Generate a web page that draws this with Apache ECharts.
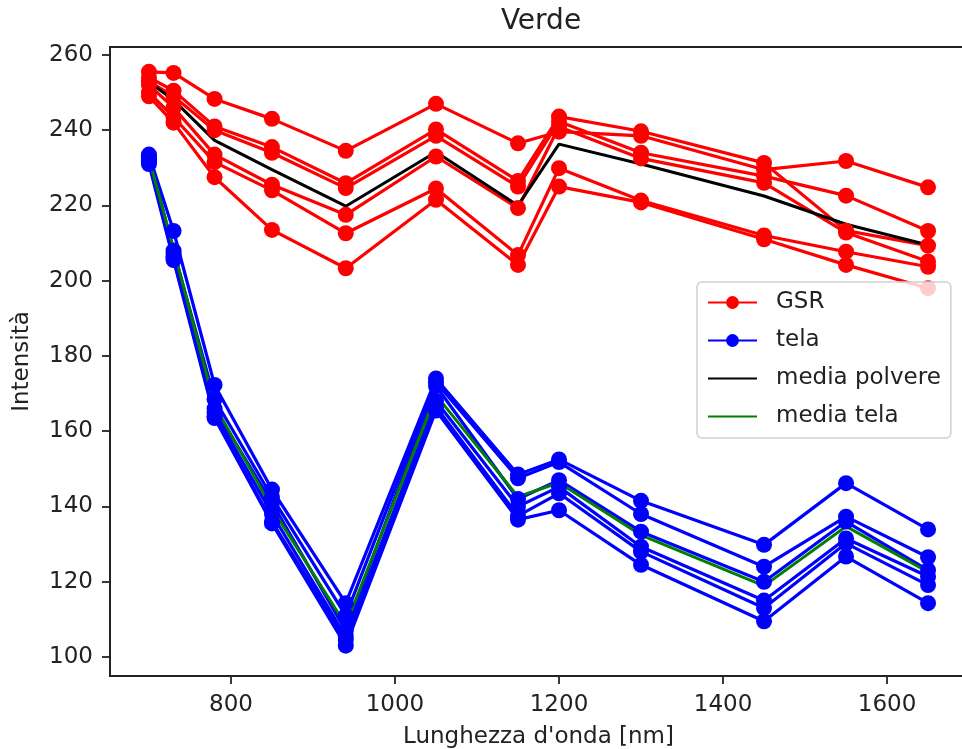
<!DOCTYPE html>
<html>
<head>
	<title>Verde</title>
	<meta charset="utf-8">
	<style>
		html, body {
			margin: 0;
			padding: 0;
			background: #fff;
		}
		#chart {
			width: 962px;
			height: 749px;
		}
	</style>
	<script src="https://cdn.jsdelivr.net/npm/echarts@6/dist/echarts.min.js"></script>
</head>
<body>

<div id="chart"></div>

<script>

var wavelengths = [700, 730, 780, 850, 940, 1050, 1150, 1200, 1300, 1450, 1550, 1650];

// GSR (polvere), 6 misure
var gsr1 = [255.5, 255.2, 248.3, 243, 234.5, 247, 236.5, 239.6, 238.5, 229.5, 231.8, 224.8];
var gsr2 = [254, 250.5, 241, 235.5, 225.9, 240.2, 226.5, 243.6, 239.7, 231.3, 213.3, 209.3];
var gsr3 = [253, 249, 240, 234, 224.6, 238.5, 225, 242.3, 234, 227.8, 222.6, 213.2];
var gsr4 = [252, 246, 233.5, 225.5, 217.5, 233, 219.3, 240.9, 232.5, 226, 212.8, 205.1];
var gsr5 = [250, 243.5, 231.5, 224, 212.6, 224.5, 206.8, 229.9, 221.3, 212, 207.7, 203.7];
var gsr6 = [249, 242, 227.5, 213.5, 203.3, 221.5, 204.2, 225, 220.8, 211, 204.2, 198];

// tela, 6 misure
var tela1 = [233.5, 213.2, 172.3, 144.5, 114.3, 174, 148.5, 152.5, 141.5, 129.8, 146.2, 133.9];
var tela2 = [233, 208, 168.5, 142.5, 111, 173, 147.5, 151.8, 138, 124, 137.3, 126.5];
var tela3 = [232.5, 207.2, 166, 141, 107, 172, 142, 147, 133.3, 120, 136, 123.1];
var tela4 = [232, 206.5, 165, 138, 105.4, 168, 140, 145.2, 129.3, 115, 131.5, 121.4];
var tela5 = [231.5, 206, 164, 136, 104.5, 166.5, 137.5, 143.5, 128, 113, 130.2, 119.1];
var tela6 = [231, 205.5, 163.5, 135.5, 103, 165.5, 136.5, 139, 124.5, 109.5, 126.7, 114.3];

var mediaPolvere = [252.8, 248, 237.3, 229.5, 219.8, 234.2, 220, 236.3, 231, 222.5, 215, 209.5];
var mediaTela = [232.5, 208.5, 167, 139.5, 108.5, 169.6, 142.6, 146.3, 132.4, 118.9, 134.7, 122.6];

var xTicks = [800, 1000, 1200, 1400, 1600];
var yTicks = [100, 120, 140, 160, 180, 200, 220, 240, 260];

var font = 'DejaVu Sans';
var textColor = '#222';

function pairs (values) {
	return wavelengths.map(function (x, i) {
		return [x, values[i]];
	});
}

function markerSeries (name, color, values) {
	return {
		name: name,
		type: 'line',
		data: pairs(values),
		symbol: 'circle',
		symbolSize: 16,
		lineStyle: { color: color, width: 3.2 },
		itemStyle: { color: color },
		emphasis: { disabled: true }
	};
}

function plainSeries (name, color, values) {
	return {
		name: name,
		type: 'line',
		data: pairs(values),
		showSymbol: false,
		symbol: 'none',
		lineStyle: { color: color, width: 3 },
		itemStyle: { color: color },
		z: 3,
		emphasis: { disabled: true }
	};
}

var series = [];
[gsr1, gsr2, gsr3, gsr4, gsr5, gsr6].forEach(function (s) {
	series.push(markerSeries('GSR', '#ff0000', s));
});
[tela1, tela2, tela3, tela4, tela5, tela6].forEach(function (s) {
	series.push(markerSeries('tela', '#0000ff', s));
});
series.push(plainSeries('media polvere', '#000000', mediaPolvere));
series.push(plainSeries('media tela', '#008000', mediaTela));

var chart = echarts.init(document.getElementById('chart'), null, { renderer: 'canvas' });

chart.setOption({
	animation: false,
	backgroundColor: '#fff',
	title: {
		text: 'Verde',
		left: 536,
		top: 3,
		textAlign: 'center',
		textStyle: { fontFamily: font, fontSize: 28, fontWeight: 'normal', color: textColor }
	},
	grid: {
		left: 110,
		top: 47,
		bottom: 73,
		right: -5,
		outerBoundsMode: 'none',
		show: true,
		borderColor: textColor,
		borderWidth: 1.8
	},
	legend: {
		orient: 'vertical',
		left: 697,
		top: 282,
		padding: [9, 10, 10, 10],
		itemGap: 15,
		itemWidth: 49,
		itemHeight: 16,
		backgroundColor: 'rgba(255,255,255,0.8)',
		borderColor: '#d0d0d0',
		borderWidth: 1.5,
		borderRadius: 5,
		textStyle: { fontFamily: font, fontSize: 23, color: textColor, padding: [0, 0, 0, 14] },
		data: [
			{ name: 'GSR' },
			{ name: 'tela' },
			{ name: 'media polvere', itemStyle: { opacity: 0 } },
			{ name: 'media tela', itemStyle: { opacity: 0 } }
		]
	},
	xAxis: {
		type: 'value',
		min: 652.5,
		max: 1697.5,
		name: "Lunghezza d'onda [nm]",
		nameLocation: 'middle',
		nameGap: 50,
		nameTextStyle: { fontFamily: font, fontSize: 23, color: textColor },
		axisLine: { lineStyle: { color: textColor, width: 1.8 } },
		axisTick: { length: 8, lineStyle: { color: textColor, width: 1.8 }, customValues: xTicks },
		axisLabel: {
			fontFamily: font, fontSize: 23, color: textColor, margin: 18, customValues: xTicks,
			formatter: function (v) { return String(v); }
		},
		splitLine: { show: false }
	},
	yAxis: {
		type: 'value',
		min: 94.95,
		max: 262.1,
		name: 'Intensità',
		nameLocation: 'middle',
		nameGap: 76,
		nameTextStyle: { fontFamily: font, fontSize: 23, color: textColor },
		axisLine: { show: true, lineStyle: { color: textColor, width: 1.8 } },
		axisTick: { show: true, length: 8, lineStyle: { color: textColor, width: 1.8 }, customValues: yTicks },
		axisLabel: {
			fontFamily: font, fontSize: 23, color: textColor, margin: 17, customValues: yTicks,
			formatter: function (v) { return String(v); }
		},
		splitLine: { show: false }
	},
	series: series
});

</script>
</body>
</html>
